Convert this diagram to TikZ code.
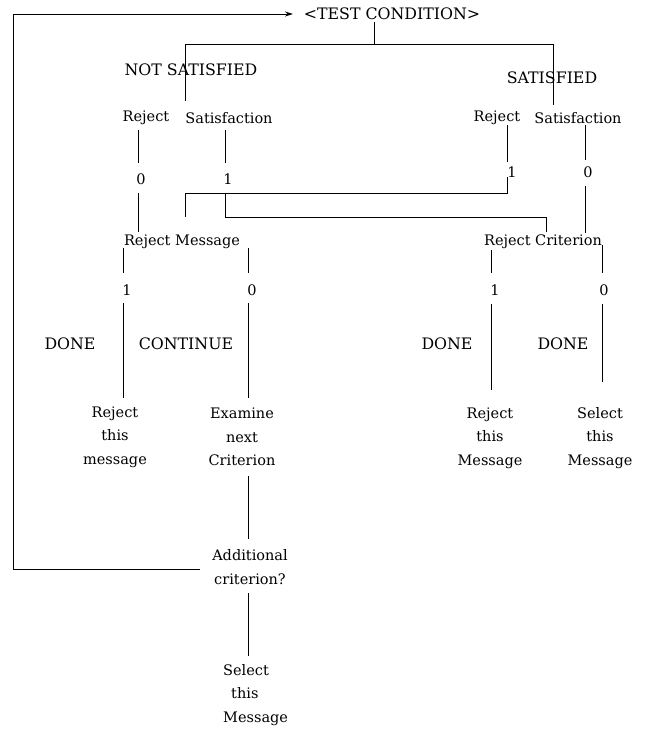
\documentclass[tikz,border=0pt]{standalone}
\usepackage{fontspec}
\setmainfont{DejaVu Serif}
\usetikzlibrary{arrows.meta}
\begin{document}
\begin{tikzpicture}[x=1pt,y=-1pt,
  lbl/.style={inner sep=0pt,font=\fontsize{14.5}{23.5}\selectfont,align=center},
  caps/.style={inner sep=0pt,font=\fontsize{15.8}{20}\selectfont},
  ln/.style={line width=1pt,line cap=butt}]
\useasboundingbox (0,0) rectangle (645,729);
% text nodes
\node[caps] (test) at (392,14) {<TEST CONDITION>};
\node[caps] (ns) at (191,70) {NOT SATISFIED};
\node[caps] (sat) at (552,78) {SATISFIED};
\node[lbl] (rejL) at (146,118) {Reject};
\node[lbl] (satL) at (229,118) {Satisfaction};
\node[lbl] (rejR) at (497,118) {Reject};
\node[lbl] (satR) at (578,118) {Satisfaction};
\node[lbl] (z1) at (141,179) {0};
\node[lbl] (o1) at (228,179) {1};
\node[lbl] (o2) at (512,172) {1};
\node[lbl] (z2) at (588,172) {0};
\node[lbl] (rm) at (182,242) {Reject Message};
\node[lbl] (rc) at (543,242) {Reject Criterion};
\node[lbl] (o3) at (127,290) {1};
\node[lbl] (z3) at (252,290) {0};
\node[lbl] (o4) at (495,290) {1};
\node[lbl] (z4) at (604,290) {0};
\node[caps] (done1) at (70,344) {DONE};
\node[caps] (cont) at (186,344) {CONTINUE};
\node[caps] (done2) at (447,344) {DONE};
\node[caps] (done3) at (563,344) {DONE};
\node[lbl] (rtm) at (115,437) {Reject\\this\\message};
\node[lbl] (enc) at (242,437) {Examine\\next\\Criterion};
\node[lbl] (rtM) at (490,438) {Reject\\this\\Message};
\node[lbl] (stM) at (600,438) {Select\\this\\Message};
\node[lbl] (add) at (250,567) {Additional\\criterion?};
\node[lbl,align=left,anchor=north west] (stM2) at (223,664) {Select\\\hspace{8pt}this\\Message};
% coordinates
\coordinate (loopA) at (200,569);
\coordinate (loopB) at (13,569);
\coordinate (loopC) at (13,14);
\coordinate (tip) at (293,14);
\coordinate (t1) at (374,22);
\coordinate (t2) at (374,44);
\coordinate (hl) at (185,44);
\coordinate (hr) at (553,44);
\coordinate (dl) at (185,101);
\coordinate (dr) at (553,105);
% loop back
\draw[ln,-{Stealth[length=8pt,width=5pt]}] (loopA) -- (loopB) -- (loopC) -- (tip);
% test condition split
\draw[ln] (t1) -- (t2);
\draw[ln] (dl) -- (hl) -- (hr) -- (dr);
% left reject branch
\draw[ln] (138,130) -- (138,163);
\draw[ln] (138,193) -- (138,232);
% left satisfaction branch
\draw[ln] (225,130) -- (225,163);
\draw[ln] (225,193) -- (225,217) -- (546,217) -- (546,232);
% right reject branch
\draw[ln] (507,125) -- (507,162);
\draw[ln] (507,177) -- (507,193) -- (185,193) -- (185,217);
% right satisfaction branch
\draw[ln] (585,125) -- (585,160);
\draw[ln] (585,186) -- (585,233);
% reject message branches
\draw[ln] (123,248) -- (123,273);
\draw[ln] (248,248) -- (248,273);
\draw[ln] (123,303) -- (123,398);
\draw[ln] (248,303) -- (248,398);
% reject criterion branches
\draw[ln] (491,250) -- (491,273);
\draw[ln] (602,245) -- (602,273);
\draw[ln] (491,304) -- (491,390);
\draw[ln] (602,304) -- (602,382);
% examine next criterion
\draw[ln] (248,476) -- (248,539);
\draw[ln] (248,593) -- (248,656);
\end{tikzpicture}
\end{document}
